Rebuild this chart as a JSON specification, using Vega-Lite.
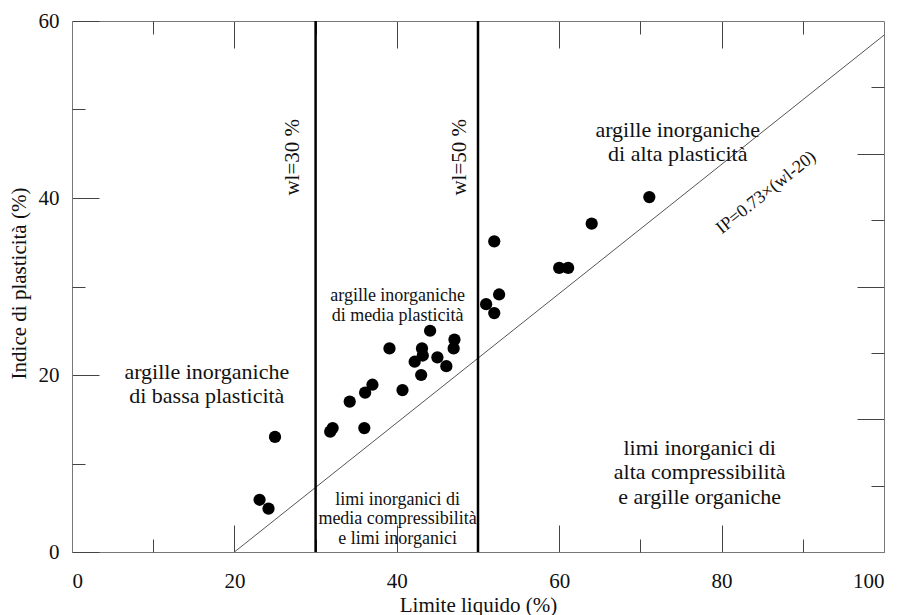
{
  "$schema": "https://vega.github.io/schema/vega-lite/v6.json",
  "width": 812,
  "height": 531,
  "autosize": {"type": "none"},
  "padding": {"left": 72, "top": 21, "right": 20, "bottom": 63},
  "background": "white",
  "config": {
    "view": {"stroke": null},
    "font": "'Liberation Serif', 'Times New Roman', serif",
    "axis": {
      "grid": false,
      "domainColor": "#777777",
      "domainWidth": 1,
      "tickColor": "#444444",
      "tickWidth": 1,
      "labelFont": "'Liberation Serif', 'Times New Roman', serif",
      "labelFontSize": 21,
      "labelColor": "#111111",
      "titleFont": "'Liberation Serif', 'Times New Roman', serif",
      "titleFontSize": 21,
      "titleFontWeight": "normal",
      "titleColor": "#111111"
    }
  },
  "datasets": {
    "samples": [
      {"wl": 23.1, "ip": 5.9},
      {"wl": 24.2, "ip": 4.9},
      {"wl": 25.0, "ip": 13.0},
      {"wl": 31.8, "ip": 13.6},
      {"wl": 32.1, "ip": 14.0},
      {"wl": 36.0, "ip": 14.0},
      {"wl": 34.2, "ip": 17.0},
      {"wl": 36.1, "ip": 18.0},
      {"wl": 37.0, "ip": 18.9},
      {"wl": 40.7, "ip": 18.3},
      {"wl": 39.1, "ip": 23.0},
      {"wl": 42.2, "ip": 21.5},
      {"wl": 43.0, "ip": 20.0},
      {"wl": 43.1, "ip": 23.0},
      {"wl": 43.2, "ip": 22.2},
      {"wl": 44.1, "ip": 25.0},
      {"wl": 45.0, "ip": 22.0},
      {"wl": 46.1, "ip": 21.0},
      {"wl": 47.1, "ip": 24.0},
      {"wl": 47.0, "ip": 23.0},
      {"wl": 51.0, "ip": 28.0},
      {"wl": 52.0, "ip": 27.0},
      {"wl": 52.6, "ip": 29.1},
      {"wl": 52.0, "ip": 35.1},
      {"wl": 60.0, "ip": 32.1},
      {"wl": 61.1, "ip": 32.1},
      {"wl": 64.0, "ip": 37.1},
      {"wl": 71.1, "ip": 40.1}
    ],
    "aLine": [
      {"wl": 20, "ip": 0},
      {"wl": 100, "ip": 58.4}
    ],
    "limits": [
      {"wl": 30},
      {"wl": 50}
    ],
    "zonesLarge": [
      {"wl": 16.6, "ip": 20.36, "label": "argille inorganiche\ndi bassa plasticità"},
      {"wl": 74.6, "ip": 47.7, "label": "argille inorganiche\ndi alta plasticità"},
      {"wl": 77.3, "ip": 11.78, "label": "limi inorganici di\nalta compressibilità\ne argille organiche"}
    ],
    "zonesSmall": [
      {"wl": 40.1, "ip": 28.9, "label": "argille inorganiche\ndi media plasticità"},
      {"wl": 40.1, "ip": 5.9, "label": "limi inorganici di\nmedia compressibilità\ne limi inorganici"}
    ],
    "limitLabels": [
      {"wl": 27.2, "ip": 44.6, "label": "wl=30 %"},
      {"wl": 47.8, "ip": 44.6, "label": "wl=50 %"}
    ],
    "lineLabel": [
      {"wl": 85.5, "ip": 40.6, "label": "IP=0.73×(wl-20)"}
    ]
  },
  "layer": [
    {
      "data": {"name": "samples"},
      "mark": {"type": "circle", "size": 150, "color": "black", "opacity": 1},
      "encoding": {
        "x": {
          "field": "wl", "type": "quantitative",
          "scale": {"domain": [0, 100], "nice": false, "zero": false},
          "axis": {
            "orient": "bottom", "values": [0, 20, 40, 60, 80, 100],
            "tickSize": -27, "labelPadding": 45,
            "title": "Limite liquido (%)", "titleBaseline": "alphabetic",
            "titleX": 406, "titleY": 59, "titleAnchor": null
          }
        },
        "y": {
          "field": "ip", "type": "quantitative",
          "scale": {"domain": [0, 60], "nice": false, "zero": false},
          "axis": {
            "orient": "left", "values": [0, 20, 40, 60],
            "tickSize": -27, "labelPadding": 40,
            "title": "Indice di plasticità (%)", "titleBaseline": "alphabetic",
            "titleX": -47, "titleY": 262, "titleAngle": -90
          }
        }
      }
    },
    {
      "data": {"name": "aLine"},
      "mark": {"type": "line", "color": "#555555", "strokeWidth": 1},
      "encoding": {
        "x": {
          "field": "wl", "type": "quantitative",
          "scale": {"domain": [0, 100], "nice": false, "zero": false},
          "axis": {"orient": "top", "values": [20, 40, 60, 80], "tickSize": -27, "labels": false, "title": null}
        },
        "y": {
          "field": "ip", "type": "quantitative",
          "scale": {"domain": [0, 60], "nice": false, "zero": false},
          "axis": {"orient": "right", "values": [15, 30, 45], "tickSize": -27, "labels": false, "title": null}
        }
      }
    },
    {
      "data": {"name": "limits"},
      "mark": {"type": "rule", "color": "black", "strokeWidth": 2.5},
      "encoding": {
        "x": {"field": "wl", "type": "quantitative", "axis": null}
      }
    },
    {
      "data": {"name": "zonesLarge"},
      "mark": {"type": "text", "font": "'Liberation Serif', 'Times New Roman', serif", "fontSize": 22, "lineBreak": "\n", "lineHeight": 24.5, "align": "center", "baseline": "middle", "color": "#111111"},
      "encoding": {
        "x": {
          "field": "wl", "type": "quantitative",
          "axis": {"orient": "bottom", "values": [10, 30, 50, 70, 90], "tickSize": -13, "labels": false, "domain": false, "title": null}
        },
        "y": {
          "field": "ip", "type": "quantitative",
          "axis": {"orient": "left", "values": [10, 30, 50], "tickSize": -13, "labels": false, "domain": false, "title": null}
        },
        "text": {"field": "label"}
      }
    },
    {
      "data": {"name": "zonesSmall"},
      "mark": {"type": "text", "font": "'Liberation Serif', 'Times New Roman', serif", "fontSize": 18, "lineBreak": "\n", "lineHeight": 19.5, "align": "center", "baseline": "middle", "color": "#111111"},
      "encoding": {
        "x": {
          "field": "wl", "type": "quantitative",
          "axis": {"orient": "top", "values": [10, 30, 50, 70, 90], "tickSize": -13, "labels": false, "domain": false, "title": null}
        },
        "y": {
          "field": "ip", "type": "quantitative",
          "axis": {"orient": "right", "values": [7.5, 22.5, 37.5, 52.5], "tickSize": -13, "labels": false, "domain": false, "title": null}
        },
        "text": {"field": "label"}
      }
    },
    {
      "data": {"name": "limitLabels"},
      "mark": {"type": "text", "font": "'Liberation Serif', 'Times New Roman', serif", "fontSize": 21, "angle": 270, "align": "center", "baseline": "middle", "color": "#111111"},
      "encoding": {
        "x": {"field": "wl", "type": "quantitative", "axis": null},
        "y": {"field": "ip", "type": "quantitative", "axis": null},
        "text": {"field": "label"}
      }
    },
    {
      "data": {"name": "lineLabel"},
      "mark": {"type": "text", "font": "'Liberation Serif', 'Times New Roman', serif", "fontSize": 18, "angle": 321.5, "align": "center", "baseline": "middle", "color": "#111111"},
      "encoding": {
        "x": {"field": "wl", "type": "quantitative", "axis": null},
        "y": {"field": "ip", "type": "quantitative", "axis": null},
        "text": {"field": "label"}
      }
    }
  ],
  "resolve": {"axis": {"x": "independent", "y": "independent"}}
}
